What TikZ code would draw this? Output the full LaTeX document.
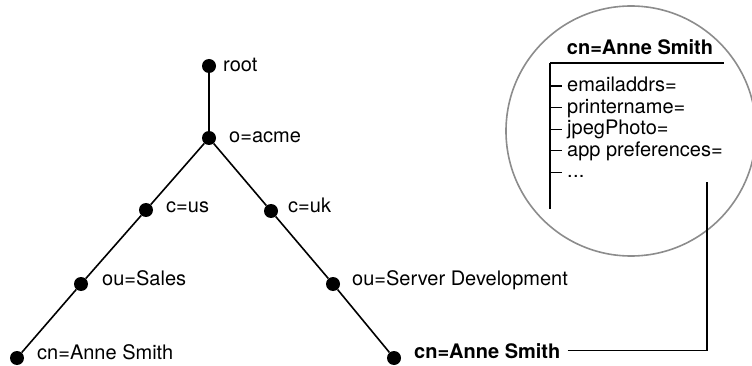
\documentclass[tikz,border=0pt]{standalone}
\usepackage{fontspec}
\setmainfont{TeX Gyre Heros}
\begin{document}
\begin{tikzpicture}[x=1pt,y=-1pt,
    dot/.style={circle, fill=black, inner sep=0pt, minimum size=14pt},
    lbl/.style={anchor=base west, inner sep=0pt, font=\fontsize{20}{24}\selectfont},
    boldlbl/.style={lbl, font=\fontsize{20}{24}\selectfont\bfseries},
    branch/.style={line width=1.6pt},
    frame/.style={line width=1.1pt}]
    \useasboundingbox (0,0) rectangle (752,366);
    \draw[line width=1.6pt, color=black!45] (631,131) circle (125);
    \node[dot] (root) at (209,66) {};
    \node[dot] (acme) at (209,138) {};
    \node[dot] (us) at (146,210) {};
    \node[dot] (uk) at (271,211) {};
    \node[dot] (sales) at (81,284) {};
    \node[dot] (serverdev) at (333,284) {};
    \node[dot] (annel) at (17,358) {};
    \node[dot] (anner) at (394,358) {};
    \draw[branch] (root) -- (acme);
    \draw[branch] (acme) -- (us) -- (sales) -- (annel);
    \draw[branch] (acme) -- (uk) -- (serverdev) -- (anner);
    \node[lbl] (rootlbl) at (223,72) {root};
    \node[lbl] (acmelbl) at (229,143) {o=acme};
    \node[lbl] (uslbl) at (166,212) {c=us};
    \node[lbl] (uklbl) at (288,212) {c=uk};
    \node[lbl] (saleslbl) at (102,285) {ou=Sales};
    \node[lbl] (serverdevlbl) at (352,285) {ou=Server Development};
    \node[lbl] (annellbl) at (37,359) {cn=Anne Smith};
    \node[boldlbl] (annerlbl) at (414,358) {cn=Anne Smith};
    \node[boldlbl, anchor=base] (entrytitle) at (640,55) {cn=Anne Smith};
    \coordinate (entrytop) at (550,63);
    \coordinate (entrybottom) at (550,209);
    \draw[frame] (entrytop) -- (724,63);
    \draw[frame] (entrytop) -- (entrybottom);
    \foreach \attr/\ty in {emailaddrs=/86, printername=/107.6, jpegPhoto=/129.2, app preferences=/150.8} {
        \draw[frame] (550,\ty) -- (562,\ty);
        \node[lbl] (attr\ty) at (567,\ty+5.5) {\attr};
    }
    \draw[frame] (550,172.4) -- (562,172.4);
    \node[lbl] (attrmore) at (567,177.9) {.\kern0.3pt.\kern0.3pt.};
    \coordinate (entrylink) at (707,182);
    \draw[frame] ([xshift=7pt]annerlbl.east) -| (entrylink);
\end{tikzpicture}
\end{document}
